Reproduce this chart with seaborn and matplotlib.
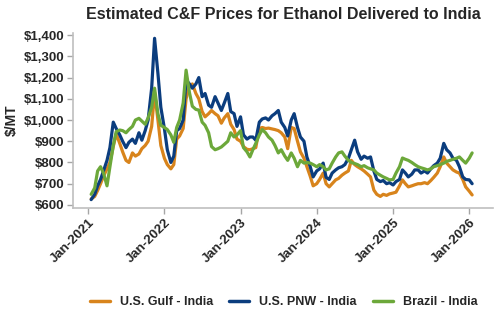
import numpy as np
import pandas as pd
import matplotlib
matplotlib.use("Agg")
import matplotlib.pyplot as plt
import matplotlib.dates as mdates
import matplotlib.ticker as mticker
import seaborn as sns

# semi-monthly observation dates, Jan 15 2021 .. Jan 15 2026
dates = pd.date_range("2021-01-01", "2026-01-31", freq="SMS")[1:122]

us_gulf = [628, 640, 668, 700, 735, 770, 800, 875, 935, 890,
           850, 810, 800, 845, 830, 840, 865, 880, 900, 970,
           1130, 1000, 880, 820, 790, 770, 790, 910, 925, 960,
           1100, 1160, 1170, 1125, 1100, 1040, 1015, 1030, 1045, 1030,
           1020, 985, 1010, 1030, 980, 955, 910, 900, 875, 862,
           860, 865, 870, 960, 965, 960, 962, 958, 955, 950,
           940, 920, 865, 965, 960, 900, 850, 820, 780, 735,
           690, 700, 720, 750, 700, 685, 700, 718, 725, 740,
           750, 760, 810, 790, 780, 770, 760, 745, 732, 670,
           650, 640, 650, 645, 652, 656, 660, 690, 718, 700,
           685, 690, 695, 700, 700, 705, 700, 715, 730, 750,
           780, 826, 797, 780, 765, 755, 750, 720, 685, 665,
           647]

us_pnw = [625, 650, 690, 720, 760, 810, 870, 990, 960, 930,
          900, 870, 895, 910, 890, 940, 905, 950, 1000, 1150,
          1385, 1220, 1060, 960, 860, 800, 830, 950, 960, 1000,
          1190, 1170, 1150, 1170, 1200, 1110, 1125, 1070, 1060, 1110,
          1080, 1045, 1080, 1125, 1040, 1030, 970, 1015, 930, 910,
          920, 920, 905, 990, 1005, 1010, 1000, 1020, 1030, 1045,
          990, 965, 925, 1000, 1030, 965, 920, 900, 826, 780,
          732, 760, 770, 797, 730, 720, 750, 765, 775, 780,
          790, 820, 860, 905, 850, 815, 830, 820, 826, 760,
          720, 710, 715, 700, 705, 694, 710, 720, 765, 750,
          732, 745, 765, 765, 750, 760, 750, 770, 785, 797,
          820, 890, 860, 845, 820, 810, 780, 732, 720, 718,
          700]

brazil = [650, 680, 760, 780, 750, 690, 780, 880, 945, 953,
          950, 940, 955, 970, 1000, 1008, 995, 980, 1010, 1060,
          1150, 1030, 975, 965, 955, 930, 895, 965, 1000, 1080,
          1235, 1130, 1065, 1050, 1047, 990, 975, 940, 875, 860,
          865, 873, 885, 900, 940, 920, 930, 950, 870, 850,
          826, 860, 890, 930, 955, 940, 920, 905, 880, 845,
          860, 830, 810, 845, 820, 780, 810, 797, 800, 797,
          790, 780, 790, 780, 765, 770, 797, 826, 845, 850,
          830, 810, 800, 795, 790, 780, 785, 775, 770, 765,
          750, 740, 732, 725, 718, 720, 750, 780, 821, 815,
          810, 800, 790, 780, 775, 770, 765, 770, 780, 785,
          790, 797, 805, 810, 815, 820, 826, 810, 797, 820,
          845]

series_names = ["U.S. Gulf - India", "U.S. PNW - India", "Brazil - India"]
colors = ["#D8841C", "#0B3D7E", "#6CA83A"]
year_ticks = pd.to_datetime(["2021-01-01", "2022-01-01", "2023-01-01",
                             "2024-01-01", "2025-01-01", "2026-01-01"])

df = pd.concat([
    pd.DataFrame({"date": dates, "price": us_gulf, "route": series_names[0]}),
    pd.DataFrame({"date": dates, "price": us_pnw, "route": series_names[1]}),
    pd.DataFrame({"date": dates, "price": brazil, "route": series_names[2]}),
])

sns.set_theme(style="white")
plt.rcParams["font.family"] = ["Liberation Sans", "DejaVu Sans"]

fig = plt.figure(figsize=(5.0, 3.3), dpi=100)
ax = fig.add_axes([0.146, 0.370, 0.840, 0.530])

sns.lineplot(data=df, x="date", y="price", hue="route", hue_order=series_names,
             palette=colors, linewidth=2.3, ax=ax, legend=True)

ax.set_ylim(586, 1410)
ax.set_xlim(pd.Timestamp("2020-10-20"), pd.Timestamp("2026-04-25"))
ax.yaxis.set_major_locator(mticker.MultipleLocator(100))
ax.yaxis.set_major_formatter(mticker.FuncFormatter(lambda v, p: f"${v:,.0f}"))
ax.set_xticks(year_ticks)
ax.xaxis.set_major_formatter(mdates.DateFormatter("%b-%Y"))

for lab in ax.get_yticklabels():
    lab.set_fontweight("bold")
    lab.set_fontsize(9.5)
for lab in ax.get_xticklabels():
    lab.set_fontweight("bold")
    lab.set_fontsize(9.5)
    lab.set_rotation(45)
    lab.set_ha("right")
    lab.set_rotation_mode("anchor")

ax.tick_params(axis="both", which="major", length=4, width=1, color="#A6A6A6",
               bottom=True, left=True, pad=2)
for side in ["top", "right"]:
    ax.spines[side].set_visible(False)
for side in ["left", "bottom"]:
    ax.spines[side].set_color("#BFBFBF")
    ax.spines[side].set_linewidth(1.2)

ax.set_xlabel("")
ax.set_ylabel("$/MT", fontsize=10, fontweight="bold", labelpad=4)
ax.grid(False)

ax.set_title("Estimated C&F Prices for Ethanol Delivered to India",
             fontsize=11.5, fontweight="bold", pad=10)

handles, labels = ax.get_legend_handles_labels()
ax.get_legend().remove()
for h in handles:
    h.set_linewidth(2.5)
fig.legend(handles, labels, loc="center", bbox_to_anchor=(0.567, 0.085),
           ncol=3, frameon=False, prop={"weight": "bold", "size": 9},
           handlelength=1.6, columnspacing=1.3, handletextpad=0.8)

fig.savefig("out.png", dpi=100)
